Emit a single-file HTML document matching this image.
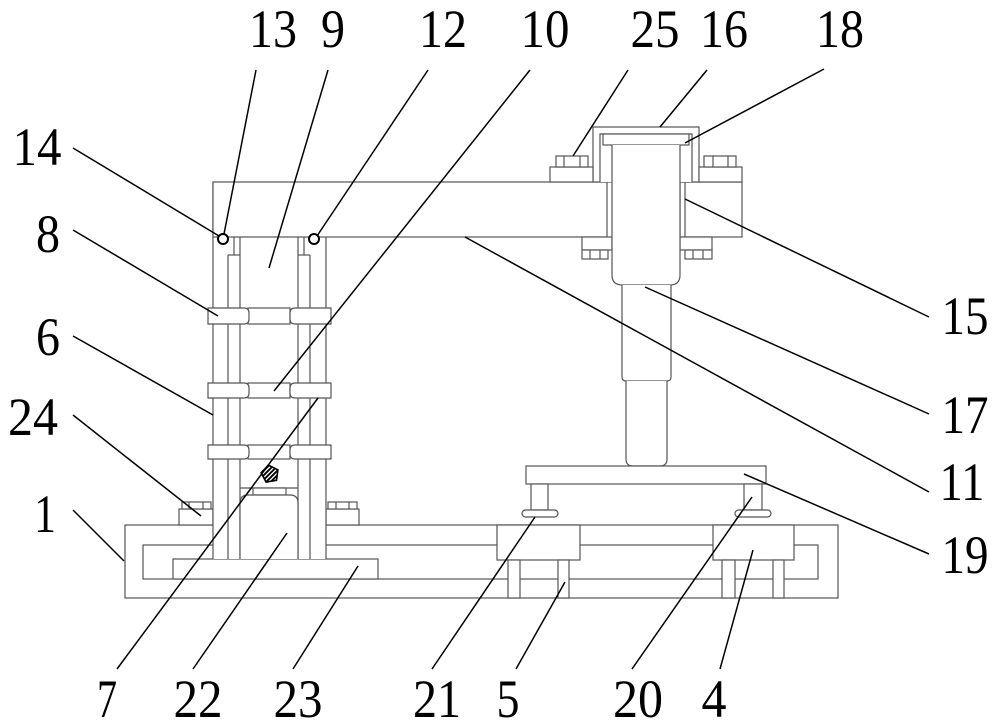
<!DOCTYPE html>
<html><head><meta charset="utf-8"><style>
html,body{margin:0;padding:0;background:#fff;}
svg{display:block;}
text{font-family:"Liberation Serif",serif;font-size:54px;fill:#000;}
</style></head><body>
<svg width="1000" height="728" viewBox="0 0 1000 728" xmlns="http://www.w3.org/2000/svg">
<defs>
<pattern id="h" width="3.2" height="3.2" patternUnits="userSpaceOnUse" patternTransform="rotate(45)">
<rect width="3.2" height="3.2" fill="#fff"/><line x1="0.9" y1="0" x2="0.9" y2="3.2" stroke="#000" stroke-width="1.9"/></pattern>
</defs>
<g fill="#fff" stroke="#555" stroke-width="1.2">
<!-- base -->
<rect x="125" y="525" width="713" height="73"/>
<rect x="143" y="545" width="675" height="34"/>
<rect x="173" y="559" width="205" height="20"/>
<!-- sliders -->
<rect x="497" y="525" width="83" height="35"/>
<rect x="713" y="525" width="81" height="35"/>
<rect x="508" y="560" width="12" height="38"/>
<rect x="558" y="560" width="11" height="38"/>
<rect x="722" y="560" width="13" height="38"/>
<rect x="773" y="560" width="11" height="38"/>
<!-- base bolts -->
<rect x="179" y="509" width="34" height="16"/>
<rect x="182" y="502" width="29" height="7"/>
<line x1="189" y1="502" x2="189" y2="509"/><line x1="203" y1="502" x2="203" y2="509"/>
<rect x="326" y="509" width="33" height="16"/>
<rect x="328" y="502" width="29" height="7"/>
<line x1="336" y1="502" x2="336" y2="509"/><line x1="349" y1="502" x2="349" y2="509"/>
<!-- column -->
<rect x="213" y="237" width="113" height="322" stroke="none"/>
<line x1="213" y1="182" x2="213" y2="559"/>
<line x1="228" y1="255" x2="228" y2="559"/>
<line x1="240" y1="237" x2="240" y2="559"/>
<line x1="298" y1="237" x2="298" y2="559"/>
<line x1="310" y1="255" x2="310" y2="559"/>
<line x1="326" y1="237" x2="326" y2="559"/>
<line x1="234" y1="237" x2="234" y2="255"/><line x1="228" y1="255" x2="240" y2="255"/>
<line x1="304" y1="237" x2="304" y2="255"/><line x1="298" y1="255" x2="310" y2="255"/>
<!-- arm -->
<rect x="213" y="182" width="394" height="55"/>
<!-- middle bars -->
<rect x="248" y="308" width="42" height="16"/>
<rect x="248" y="383" width="42" height="15"/>
<rect x="248" y="445" width="42" height="14"/>
<!-- collars -->
<path d="M208,308 H244 Q249,308 249,313 V319 Q249,324 244,324 H208 Z"/>
<path d="M331,308 H295 Q290,308 290,313 V319 Q290,324 295,324 H331 Z"/>
<path d="M208,383 H244 Q249,383 249,388 V393 Q249,398 244,398 H208 Z"/>
<path d="M331,383 H295 Q290,383 290,388 V393 Q290,398 295,398 H331 Z"/>
<path d="M208,445 H244 Q249,445 249,450 V454 Q249,459 244,459 H208 Z"/>
<path d="M331,445 H295 Q290,445 290,450 V454 Q290,459 295,459 H331 Z"/>
<line x1="240" y1="488" x2="298" y2="488"/>
<rect x="253" y="488" width="33" height="7"/>
<path d="M240,559 V503 Q240,495 248,495 H290 Q298,495 298,503 V559"/>
<!-- right assembly -->
<rect x="680" y="182" width="62" height="55"/>
<line x1="685" y1="182" x2="685" y2="237"/>
<rect x="593" y="127" width="106" height="55"/>
<path d="M600,182 V134 H692 V182"/>
<rect x="603" y="134" width="86" height="11"/>
<rect x="550" y="167" width="43" height="15"/>
<rect x="556" y="156" width="32" height="11"/>
<line x1="564" y1="156" x2="564" y2="167"/><line x1="580" y1="156" x2="580" y2="167"/>
<rect x="699" y="167" width="43" height="15"/>
<rect x="704" y="156" width="32" height="11"/>
<line x1="713" y1="156" x2="713" y2="167"/><line x1="728" y1="156" x2="728" y2="167"/>
<rect x="582" y="237" width="30" height="13"/>
<rect x="582" y="250" width="26" height="9"/>
<line x1="590" y1="250" x2="590" y2="259"/><line x1="600" y1="250" x2="600" y2="259"/>
<rect x="680" y="237" width="32" height="13"/>
<rect x="685" y="250" width="27" height="9"/>
<line x1="693" y1="250" x2="693" y2="259"/><line x1="703" y1="250" x2="703" y2="259"/>
<path d="M612,145 V275 Q612,285 622,285 H670 Q680,285 680,275 V145"/>
<path d="M622,285 V377 Q622,381 626,381 H667 Q671,381 671,377 V285"/>
<path d="M626,381 V459 Q626,466 633,466 H660 Q667,466 667,459 V381"/>
<rect x="526" y="466" width="240" height="18"/>
<rect x="531" y="484" width="17" height="26"/>
<rect x="744" y="484" width="18" height="26"/>
<rect x="522" y="510" width="36" height="7" rx="3.5"/>
<rect x="735" y="510" width="36" height="7" rx="3.5"/>
</g>
<polygon points="268.4,465.1 277.9,469.8 276.5,480.3 266.1,482.1 261.1,472.7" fill="url(#h)" stroke="#000" stroke-width="1.6"/>
<g fill="#fff" stroke="#000" stroke-width="2">
<circle cx="223" cy="239" r="5"/>
<circle cx="314" cy="239" r="5"/>
</g>
<!-- leaders -->
<g stroke="#000" stroke-width="1.5" fill="none">
<line x1="256" y1="70" x2="224" y2="234"/>
<line x1="328" y1="70" x2="269" y2="268"/>
<line x1="428" y1="70" x2="317" y2="236"/>
<line x1="530" y1="70" x2="274" y2="391"/>
<line x1="628" y1="70" x2="573" y2="156"/>
<line x1="707" y1="70" x2="660" y2="127"/>
<line x1="824" y1="69" x2="685" y2="143"/>
<line x1="73" y1="148" x2="219" y2="236"/>
<line x1="73" y1="230" x2="218" y2="316"/>
<line x1="73" y1="336" x2="213" y2="415"/>
<line x1="73" y1="415" x2="201" y2="516"/>
<line x1="73" y1="510" x2="124" y2="561"/>
<line x1="685" y1="199" x2="929" y2="317"/>
<line x1="645" y1="287" x2="929" y2="414"/>
<line x1="465" y1="237" x2="929" y2="492"/>
<line x1="744" y1="474" x2="929" y2="554"/>
<line x1="318" y1="398" x2="117" y2="669"/>
<line x1="287" y1="533" x2="193" y2="669"/>
<line x1="358" y1="566" x2="293" y2="669"/>
<line x1="535" y1="517" x2="432" y2="669"/>
<line x1="565" y1="582" x2="516" y2="669"/>
<line x1="752" y1="497" x2="632" y2="669"/>
<line x1="753" y1="550" x2="720" y2="669"/>
</g>
<g text-anchor="middle" lengthAdjust="spacingAndGlyphs">
<text x="273" y="47" textLength="48" lengthAdjust="spacingAndGlyphs">13</text>
<text x="333" y="47" textLength="24" lengthAdjust="spacingAndGlyphs">9</text>
<text x="443" y="47" textLength="48" lengthAdjust="spacingAndGlyphs">12</text>
<text x="545" y="47" textLength="49" lengthAdjust="spacingAndGlyphs">10</text>
<text x="655" y="47" textLength="49" lengthAdjust="spacingAndGlyphs">25</text>
<text x="724" y="47" textLength="48" lengthAdjust="spacingAndGlyphs">16</text>
<text x="840" y="47" textLength="48" lengthAdjust="spacingAndGlyphs">18</text>
<text x="37" y="165" textLength="49" lengthAdjust="spacingAndGlyphs">14</text>
<text x="48" y="252" textLength="24" lengthAdjust="spacingAndGlyphs">8</text>
<text x="48" y="355" textLength="24" lengthAdjust="spacingAndGlyphs">6</text>
<text x="33" y="435" textLength="50" lengthAdjust="spacingAndGlyphs">24</text>
<text x="45" y="532" textLength="22" lengthAdjust="spacingAndGlyphs">1</text>
<text x="965" y="334" textLength="47" lengthAdjust="spacingAndGlyphs">15</text>
<text x="965" y="433" textLength="47" lengthAdjust="spacingAndGlyphs">17</text>
<text x="962" y="500" textLength="45" lengthAdjust="spacingAndGlyphs">11</text>
<text x="965" y="573" textLength="47" lengthAdjust="spacingAndGlyphs">19</text>
<text x="107" y="717" textLength="20" lengthAdjust="spacingAndGlyphs">7</text>
<text x="198" y="717" textLength="49" lengthAdjust="spacingAndGlyphs">22</text>
<text x="298" y="717" textLength="49" lengthAdjust="spacingAndGlyphs">23</text>
<text x="437" y="717" textLength="48" lengthAdjust="spacingAndGlyphs">21</text>
<text x="508" y="717" textLength="23" lengthAdjust="spacingAndGlyphs">5</text>
<text x="638" y="717" textLength="50" lengthAdjust="spacingAndGlyphs">20</text>
<text x="714" y="717" textLength="25" lengthAdjust="spacingAndGlyphs">4</text>
</g>
</svg>
</body></html>
